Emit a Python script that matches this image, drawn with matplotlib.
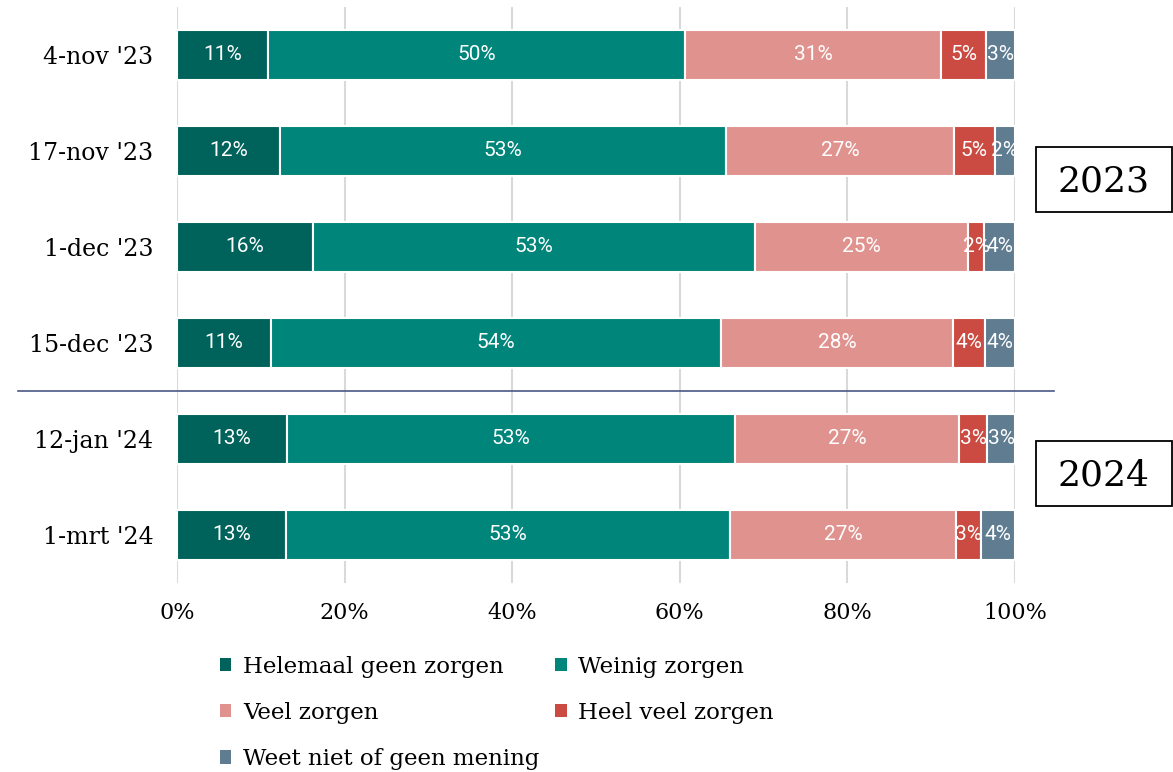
import matplotlib
matplotlib.use("Agg")
import matplotlib.pyplot as plt
from matplotlib.patches import Rectangle
import numpy as np

dates = ["4-nov '23", "17-nov '23", "1-dec '23", "15-dec '23", "12-jan '24", "1-mrt '24"]
series_names = ["Helemaal geen zorgen", "Weinig zorgen", "Veel zorgen",
                "Heel veel zorgen", "Weet niet of geen mening"]
helemaal_geen = [10.9, 12.3, 16.2, 11.2, 13.1, 13.0]
weinig = [49.7, 53.2, 52.8, 53.7, 53.5, 53.0]
veel = [30.6, 27.2, 25.4, 27.7, 26.7, 27.0]
heel_veel = [5.3, 4.9, 1.9, 3.8, 3.4, 2.9]
weet_niet = [3.5, 2.4, 3.7, 3.6, 3.3, 4.1]
labels = [
    ["11%", "12%", "16%", "11%", "13%", "13%"],
    ["50%", "53%", "53%", "54%", "53%", "53%"],
    ["31%", "27%", "25%", "28%", "27%", "27%"],
    ["5%", "5%", "2%", "4%", "3%", "3%"],
    ["3%", "2%", "4%", "4%", "3%", "4%"],
]
xticks = [0, 20, 40, 60, 80, 100]
xticklabels = ["0%", "20%", "40%", "60%", "80%", "100%"]
years = ["2023", "2024"]

colors = ["#00635b", "#00857a", "#e0938e", "#cb4b42", "#5f7c91"]
serif = ["DejaVu Serif"]

fig = plt.figure(figsize=(11.73, 7.72), dpi=100)
W, H = 1173, 772
ax = fig.add_axes([177 / W, 1 - 583 / H, (1015 - 177) / W, 576 / H])

series = [helemaal_geen, weinig, veel, heel_veel, weet_niet]
y = np.arange(len(dates))
left = np.zeros(len(dates))
handles = []
for i, vals in enumerate(series):
    vals = np.array(vals)
    bars = ax.barh(y, vals, left=left, height=0.53, color=colors[i],
                   edgecolor="white", linewidth=1.5, label=series_names[i], zorder=3)
    handles.append(bars)
    for j, b in enumerate(bars):
        ax.text(left[j] + vals[j] / 2, y[j], labels[i][j], ha="center", va="center",
                color="white", fontsize=15, family=["Roboto", "DejaVu Sans"], zorder=4)
    left += vals

ax.set_xlim(0, 100)
ax.set_ylim(len(dates) - 0.5, -0.5)
ax.set_yticks(y)
ax.set_yticklabels(dates, family=serif, fontsize=17)
ax.set_xticks(xticks)
ax.set_xticklabels(xticklabels, family=serif, fontsize=16)
ax.tick_params(length=0)
ax.tick_params(axis="y", pad=17)
ax.tick_params(axis="x", pad=14)
for s in ax.spines.values():
    s.set_visible(False)
ax.grid(axis="x", color="#d9d9d9", linewidth=1.5, zorder=0)
ax.set_axisbelow(True)

# separator between years
fig.add_artist(plt.Line2D([18 / W, 1054 / W], [1 - 391 / H, 1 - 391 / H],
                          color="#4a5788", linewidth=1.2))

# year boxes
for yr, ytop in zip(years, [147, 441]):
    fig.add_artist(Rectangle((1036 / W, 1 - (ytop + 65) / H), 136 / W, 65 / H,
                             transform=fig.transFigure, facecolor="white",
                             edgecolor="black", linewidth=1.3))
    fig.text(1104 / W, 1 - (ytop + 34) / H, yr, ha="center", va="center",
             fontsize=26, family=serif)

order = [0, 2, 4, 1, 3]
leg = fig.legend([handles[k] for k in order], [series_names[k] for k in order],
                 loc="upper left", bbox_to_anchor=(220 / W, 1 - 656 / H),
                 ncol=2, frameon=False, prop={"family": serif, "size": 16.5},
                 handlelength=0.5, handleheight=0.5, handletextpad=0.5,
                 columnspacing=0.7, labelspacing=1.05, borderaxespad=0, borderpad=0)
for h in leg.legend_handles:
    h.set_edgecolor("none")

fig.savefig("out.png", dpi=100)
